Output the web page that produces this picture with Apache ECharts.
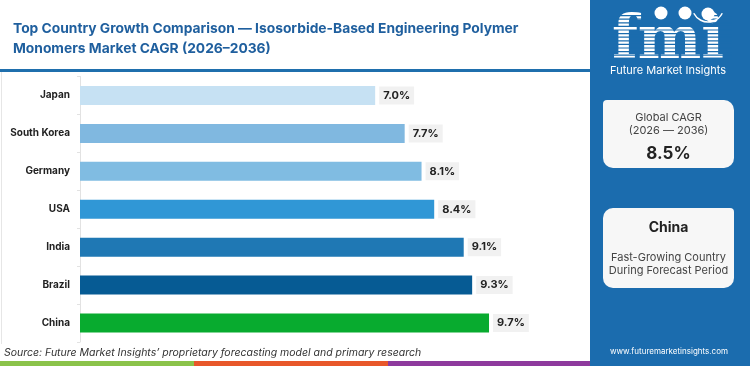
<!DOCTYPE html>
<html>
<head>
<meta charset="utf-8">
<script src="https://cdn.jsdelivr.net/npm/echarts@6/dist/echarts.min.js"></script>
<style>
html,body{margin:0;padding:0;background:#fff;}
#main{width:750px;height:366px;}
</style>
</head>
<body>
<div id="main"></div>
<script>
const categories = ['Japan', 'South Korea', 'Germany', 'USA', 'India', 'Brazil', 'China'];
const cagrValues = [7.0, 7.7, 8.1, 8.4, 9.1, 9.3, 9.7];
const barColors = ['#c6e1f3', '#80b8e0', '#80bce2', '#3097d6', '#1f78b4', '#065b94', '#08ab2f'];
const titleLines = ['Top Country Growth Comparison — Isosorbide-Based Engineering Polymer', 'Monomers Market CAGR (2026–2036)'];
const globalCagr = '8.5%';
const leadCountry = 'China';

const PANEL = '#1b6cae';
const FONT = 'Inter, "Noto Sans", sans-serif';

const chart = echarts.init(document.getElementById('main'), null, {renderer: 'canvas'});

// logo stripes
const stripes = [];
for (let y = 15; y < 60; y += 3.6) {
  stripes.push({type: 'rect', z: 12, shape: {x: 608, y: y, width: 124, height: 1.2}, style: {fill: PANEL}, silent: true});
}

const option = {
  animation: false,
  backgroundColor: '#ffffff',
  title: {
    text: titleLines.join('\n'),
    left: 8, top: 14,
    textStyle: {fontFamily: FONT, fontSize: 13.8, fontWeight: 'bold', color: '#1f5f9e', lineHeight: 20}
  },
  grid: {left: 80, top: 76.5, width: 506, height: 265.5, containLabel: false},
  xAxis: {
    type: 'value', min: 0, max: 12, show: false
  },
  yAxis: {
    type: 'category', data: categories, inverse: true,
    axisLine: {show: true, lineStyle: {color: '#e2e2e2', width: 1}},
    axisTick: {show: true, length: 3, lineStyle: {color: '#e2e2e2'}},
    axisLabel: {fontFamily: FONT, fontSize: 10, fontWeight: 'bold', color: '#222', margin: 10}
  },
  series: [{
    type: 'bar',
    barWidth: 19,
    data: cagrValues.map((v, i) => ({value: v, itemStyle: {color: barColors[i]}})),
    label: {
      show: true, position: 'right', distance: 4,
      formatter: p => p.value.toFixed(1) + '%',
      fontFamily: FONT, fontSize: 11, fontWeight: 'bold', color: '#222',
      backgroundColor: '#f1f1f1', padding: [4, 4, 3, 4]
    }
  }],
  graphic: [
    {type: 'rect', shape: {x: 0, y: 69, width: 590, height: 3}, style: {fill: '#1f6fad'}, silent: true},
    {type: 'rect', shape: {x: 1, y: 72, width: 1, height: 272}, style: {fill: '#e6e6e6'}, silent: true},
    {type: 'rect', shape: {x: 590, y: 0, width: 160, height: 366}, style: {fill: PANEL}, silent: true},
    {type: 'text', z: 11, style: {x: 668, y: 72, text: 'fmi', textAlign: 'center', textVerticalAlign: 'bottom', fontFamily: '"DejaVu Serif", serif', fontWeight: 'bold', fontSize: 60, fill: '#ffffff'}, silent: true},
    ...stripes,
    {type: 'circle', z: 13, shape: {cx: 661, cy: 13, r: 6.5}, style: {fill: '#ffffff'}, silent: true},
    {type: 'circle', z: 13, shape: {cx: 685, cy: 13, r: 6.5}, style: {fill: '#ffffff'}, silent: true},
    {type: 'circle', z: 13, shape: {cx: 708, cy: 14, r: 6.5}, style: {fill: '#ffffff'}, silent: true},
    {type: 'arc', z: 13, shape: {cx: 708, cy: 6, r: 16, startAngle: Math.PI * 0.15, endAngle: Math.PI * 0.85}, style: {stroke: '#ffffff', lineWidth: 1.5, fill: null}, silent: true},
    {type: 'text', z: 13, style: {x: 668, y: 71, text: 'Future Market Insights', textAlign: 'center', textVerticalAlign: 'middle', fontFamily: FONT, fontSize: 11, fill: '#ffffff'}, silent: true},
    {type: 'rect', shape: {x: 603, y: 100, width: 131, height: 68, r: [4, 10, 10, 10]}, style: {fill: '#f7f7f7'}, silent: true},
    {type: 'text', style: {x: 668.5, y: 118, text: 'Global CAGR', textAlign: 'center', textVerticalAlign: 'middle', fontFamily: FONT, fontSize: 11, fill: '#444'}, silent: true},
    {type: 'text', style: {x: 668.5, y: 131, text: '(2026 — 2036)', textAlign: 'center', textVerticalAlign: 'middle', fontFamily: FONT, fontSize: 11, fill: '#444'}, silent: true},
    {type: 'text', style: {x: 668.5, y: 154, text: globalCagr, textAlign: 'center', textVerticalAlign: 'middle', fontFamily: FONT, fontSize: 17, fontWeight: 'bold', fill: '#222'}, silent: true},
    {type: 'rect', shape: {x: 603, y: 208, width: 131, height: 80, r: [10, 4, 10, 10]}, style: {fill: '#f7f7f7'}, silent: true},
    {type: 'text', style: {x: 668.5, y: 228, text: leadCountry, textAlign: 'center', textVerticalAlign: 'middle', fontFamily: FONT, fontSize: 14, fontWeight: 'bold', fill: '#222'}, silent: true},
    {type: 'text', style: {x: 668.5, y: 258, text: 'Fast-Growing Country', textAlign: 'center', textVerticalAlign: 'middle', fontFamily: FONT, fontSize: 11, fill: '#444'}, silent: true},
    {type: 'text', style: {x: 668.5, y: 271, text: 'During Forecast Period', textAlign: 'center', textVerticalAlign: 'middle', fontFamily: FONT, fontSize: 11, fill: '#444'}, silent: true},
    {type: 'text', style: {x: 669, y: 352, text: 'www.futuremarketinsights.com', textAlign: 'center', textVerticalAlign: 'middle', fontFamily: FONT, fontSize: 8, fill: '#ffffff'}, silent: true},
    {type: 'text', style: {x: 4, y: 353, text: 'Source: Future Market Insights’ proprietary forecasting model and primary research', textAlign: 'left', textVerticalAlign: 'middle', fontFamily: FONT, fontSize: 10.5, fontStyle: 'italic', fill: '#333'}, silent: true},
    {type: 'rect', shape: {x: 0, y: 361, width: 194, height: 5}, style: {fill: '#8bc34a'}, silent: true},
    {type: 'rect', shape: {x: 194, y: 361, width: 194, height: 5}, style: {fill: '#e8572a'}, silent: true},
    {type: 'rect', shape: {x: 388, y: 361, width: 202, height: 5}, style: {fill: '#8e3a9d'}, silent: true}
  ]
};
chart.setOption(option);
</script>
</body>
</html>
